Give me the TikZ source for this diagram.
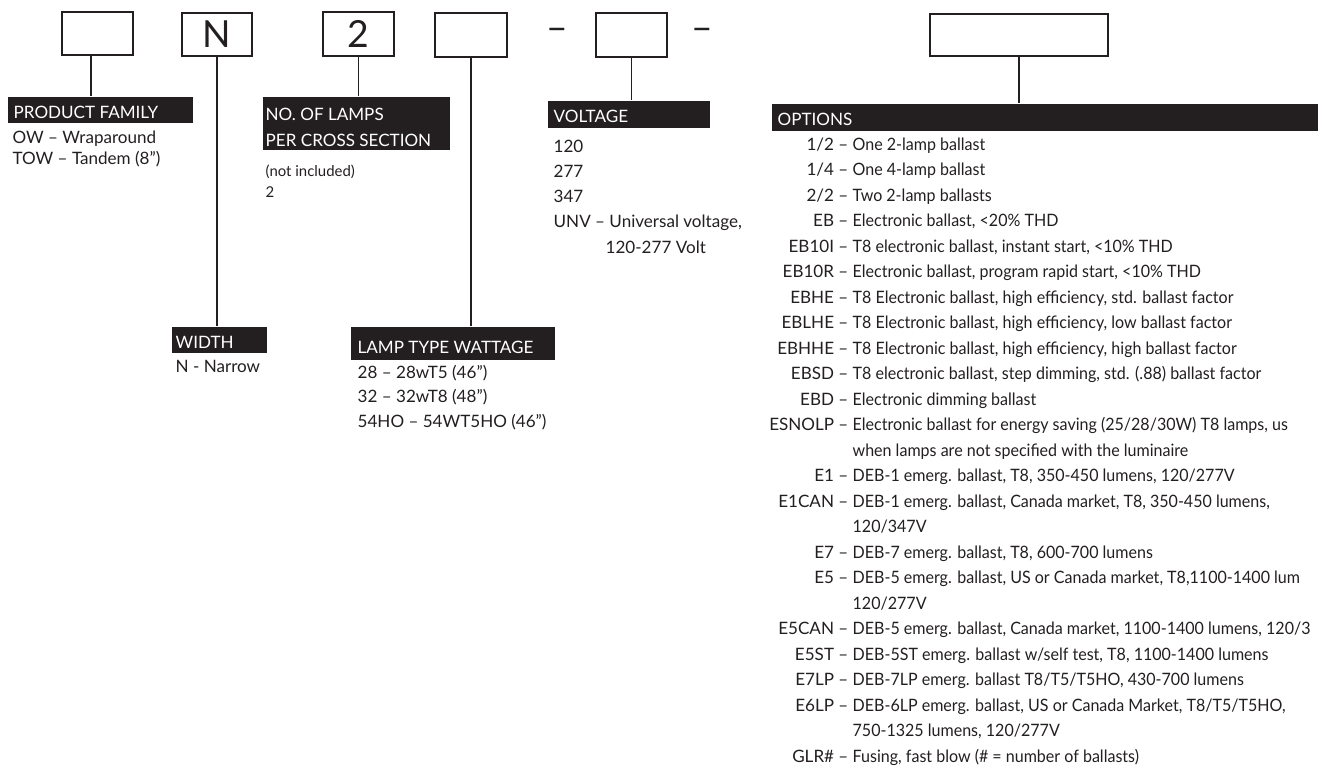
\documentclass[tikz,border=0pt]{standalone}
\usepackage{fontspec}
\setmainfont{Lato}
\newfontfamily\narrowfont{Lato}[FakeStretch=0.94]
\usetikzlibrary{fit}
\definecolor{ink}{HTML}{231F20}
\begin{document}
\begin{tikzpicture}[x=0.75pt,y=-0.75pt,line width=1pt,
  every node/.style={font=\fontsize{12.8}{15}\selectfont,inner sep=0pt,text=ink},
  codebox/.style={draw=ink,line width=0.9pt,inner sep=0pt},
  bar/.style={fill=ink,inner sep=0pt},
  head/.style={text=white,anchor=base west},
  entry/.style={anchor=base west},
  code/.style={anchor=base east},
  desc/.style={anchor=base west,font=\narrowfont\fontsize{12.8}{15}\selectfont},
  small/.style={font=\fontsize{11.2}{13}\selectfont},
  big/.style={font=\fontsize{28}{30}\selectfont}]
\useasboundingbox (0,0) rectangle (1318,772);
% code boxes
\node[codebox,fit={(62,12) (133,55)}] (fam) {};
\node[codebox,fit={(182,13) (252,56)}] (wid) {};
\node[codebox,fit={(323,12) (394,56)}] (lamps) {};
\node[codebox,fit={(435,13) (507,57)}] (watt) {};
\node[codebox,fit={(596,13) (667,57)}] (volt) {};
\node[codebox,fit={(930,14) (1108,56)}] (opt) {};
\node[big] (widN) at (wid) {N};
\node[big] (lampsN) at (lamps) {2};
\node[big] (dashA) at (557,34) {–};
\node[big] (dashB) at (702,34) {–};
% black headers
\node[bar,fit={(8,97) (193,123)}] (famBar) {};
\node[bar,fit={(263,97) (450,150)}] (lampsBar) {};
\node[bar,fit={(172,327) (267,353)}] (widBar) {};
\node[bar,fit={(351,327) (555,360)}] (wattBar) {};
\node[bar,fit={(548,101) (710,128)}] (voltBar) {};
\node[bar,fit={(772,104) (1318,131)}] (optBar) {};
% connectors
\begin{scope}[draw=ink,line width=1.1pt]
\draw ([xshift=-4.9pt]fam.south) -- ([xshift=-4.9pt]fam.south |- famBar.north);
\draw (wid.south) -- (wid.south |- widBar.north);
\draw (lamps.south) -- (lamps.south |- lampsBar.north);
\draw (watt.south) -- (watt.south |- wattBar.north);
\draw (volt.south) -- (volt.south |- voltBar.north);
\draw (opt.south) -- (opt.south |- optBar.north);
\end{scope}
% product family
\node[head] (famHead) at (13,118) {PRODUCT FAMILY};
\node[entry] (fam1) at (12,143) {OW – Wraparound};
\node[entry] (fam2) at (12,164) {TOW – Tandem (8”)};
% width
\node[head] (widHead) at (175,348) {WIDTH};
\node[entry] (wid1) at (175,372) {N - Narrow};
% lamps
\node[head] (lampsHead1) at (265,120) {NO. OF LAMPS};
\node[head] (lampsHead2) at (265,146) {PER CROSS SECTION};
\node[entry,small] (lamps1) at (265,176) {(not included)};
\node[entry,small] (lamps2) at (265,197) {2};
% wattage
\node[head] (wattHead) at (357,353) {LAMP TYPE WATTAGE};
\node[entry] (watt1) at (357,378) {28 – 28wT5 (46”)};
\node[entry] (watt2) at (357,402) {32 – 32wT8 (48”)};
\node[entry] (watt3) at (357,427) {54HO – 54WT5HO (46”)};
% voltage
\node[head] (voltHead) at (553,122) {VOLTAGE};
\foreach \v [count=\i from 0] in {120,277,347,UNV – Universal voltage{,}}
  \node[entry] (volt\i) at (553,152+25.3*\i) {\v};
\node[entry] (volt4) at (605,253) {120-277 Volt};
% options
\node[head] (optHead) at (777,125) {OPTIONS};
\foreach \c/\d [count=\i from 0] in {
  {1/2 –}/{One 2-lamp ballast},
  {1/4 –}/{One 4-lamp ballast},
  {2/2 –}/{Two 2-lamp ballasts},
  {EB –}/{Electronic ballast, <20\% THD},
  {EB10I –}/{T8 electronic ballast, instant start, <10\% THD},
  {EB10R –}/{Electronic ballast, program rapid start, <10\% THD},
  {EBHE –}/{T8 Electronic ballast, high efficiency, std. ballast factor},
  {EBLHE –}/{T8 Electronic ballast, high efficiency, low ballast factor},
  {EBHHE –}/{T8 Electronic ballast, high efficiency, high ballast factor},
  {EBSD –}/{T8 electronic ballast, step dimming, std. (.88) ballast factor},
  {EBD –}/{Electronic dimming ballast},
  {ESNOLP –}/{Electronic ballast for energy saving (25/28/30W) T8 lamps, us},
  {}/{when lamps are not specified with the luminaire},
  {E1 –}/{DEB-1 emerg. ballast, T8, 350-450 lumens, 120/277V},
  {E1CAN –}/{DEB-1 emerg. ballast, Canada market, T8, 350-450 lumens,},
  {}/{120/347V},
  {E7 –}/{DEB-7 emerg. ballast, T8, 600-700 lumens},
  {E5 –}/{DEB-5 emerg. ballast, US or Canada market, T8,1100-1400 lum},
  {}/{120/277V},
  {E5CAN –}/{DEB-5 emerg. ballast, Canada market, 1100-1400 lumens, 120/3},
  {E5ST –}/{DEB-5ST emerg. ballast w/self test, T8, 1100-1400 lumens},
  {E7LP –}/{DEB-7LP emerg. ballast T8/T5/T5HO, 430-700 lumens},
  {E6LP –}/{DEB-6LP emerg. ballast, US or Canada Market, T8/T5/T5HO,},
  {}/{750-1325 lumens, 120/277V},
  {GLR\# –}/{Fusing, fast blow (\# = number of ballasts)}}{
  \node[code] (oc\i) at (849,150+25.5*\i) {\c};
  \node[desc] (od\i) at (852,150+25.5*\i) {\d};
}
\end{tikzpicture}
\end{document}
